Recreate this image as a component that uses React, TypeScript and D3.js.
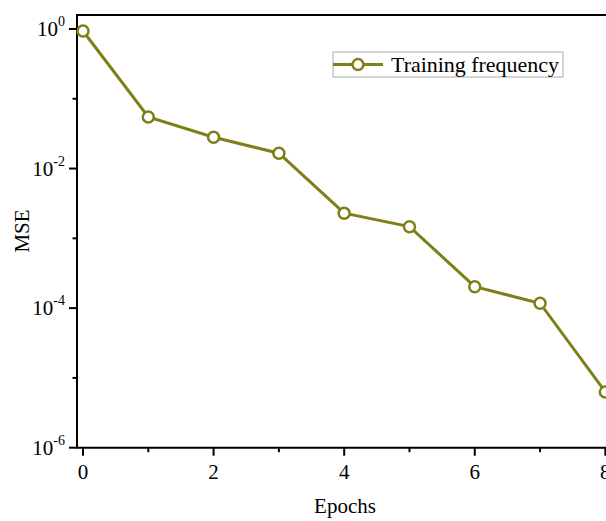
import * as d3 from 'd3';
import React, { useRef, useEffect } from 'react';

const epochs = [0, 1, 2, 3, 4, 5, 6, 7, 8];
const mse = [0.935, 0.0548, 0.0281, 0.0166, 0.00229, 0.00147, 0.000203, 0.0001175, 0.0000063];
const xMajor = [0, 2, 4, 6, 8];
const xMinor = [1, 3, 5, 7];
const yMajorExp = [0, -2, -4, -6];
const yMinorExp = [-1, -3, -5];
const seriesName = 'Training frequency';

const App = ({ width = 606, height = 521 }) => {
  const ref = useRef(null);

  useEffect(() => {
    const svg = d3.select(ref.current);
    svg.selectAll('*').remove();

    const left = 77, top = 15, bottom = 447.7, right = 638;
    const color = '#7f7f1a';
    const font = '"Liberation Serif", "Times New Roman", serif';

    const x = d3.scaleLinear().domain([-0.092, 8.5]).range([left, right]);
    const y = d3.scaleLog().domain([1e-6, Math.pow(10, 0.2)]).range([bottom, top]);

    // frame (left, top, bottom)
    svg.append('path')
      .attr('d', `M${right},${top}H${left}V${bottom}H${right}`)
      .attr('fill', 'none')
      .attr('stroke', '#000')
      .attr('stroke-width', 2);

    // x ticks
    svg.selectAll('.xmaj').data(xMajor).enter().append('line')
      .attr('x1', d => x(d)).attr('x2', d => x(d))
      .attr('y1', bottom).attr('y2', bottom + 8)
      .attr('stroke', '#000').attr('stroke-width', 2);
    svg.selectAll('.xmin').data(xMinor).enter().append('line')
      .attr('x1', d => x(d)).attr('x2', d => x(d))
      .attr('y1', bottom).attr('y2', bottom + 4.5)
      .attr('stroke', '#000').attr('stroke-width', 2);
    svg.selectAll('.xlab').data(xMajor).enter().append('text')
      .attr('x', d => x(d)).attr('y', 479)
      .attr('text-anchor', 'middle')
      .style('font-family', font).style('font-size', '21px')
      .text(d => d);

    // y ticks
    svg.selectAll('.ymaj').data(yMajorExp).enter().append('line')
      .attr('x1', left - 8).attr('x2', left)
      .attr('y1', d => y(Math.pow(10, d))).attr('y2', d => y(Math.pow(10, d)))
      .attr('stroke', '#000').attr('stroke-width', 2);
    svg.selectAll('.ymin').data(yMinorExp).enter().append('line')
      .attr('x1', left - 4.5).attr('x2', left)
      .attr('y1', d => y(Math.pow(10, d))).attr('y2', d => y(Math.pow(10, d)))
      .attr('stroke', '#000').attr('stroke-width', 2);
    const ylab = svg.selectAll('.ylab').data(yMajorExp).enter().append('text')
      .attr('x', 65).attr('y', d => y(Math.pow(10, d)) + 7)
      .attr('text-anchor', 'end')
      .style('font-family', font).style('font-size', '21px');
    ylab.append('tspan').text('10');
    ylab.append('tspan').attr('dy', -10).style('font-size', '14px').text(d => d === 0 ? '0' : `-${-d}`);

    // axis titles
    svg.append('text')
      .attr('x', 345).attr('y', 513)
      .attr('text-anchor', 'middle')
      .style('font-family', font).style('font-size', '21px')
      .text('Epochs');
    svg.append('text')
      .attr('transform', 'translate(29,231) rotate(-90)')
      .attr('text-anchor', 'middle')
      .style('font-family', font).style('font-size', '21px')
      .text('MSE');

    // line
    const pts = epochs.map((e, i) => [e, mse[i]]);
    const line = d3.line().x(d => x(d[0])).y(d => y(d[1]));
    svg.append('path')
      .attr('d', line(pts))
      .attr('fill', 'none')
      .attr('stroke', color)
      .attr('stroke-width', 3);
    svg.selectAll('.pt').data(pts).enter().append('circle')
      .attr('cx', d => x(d[0])).attr('cy', d => y(d[1]))
      .attr('r', 5.5)
      .attr('fill', '#fff')
      .attr('stroke', color)
      .attr('stroke-width', 2.5);

    // legend
    const lg = svg.append('g');
    lg.append('rect')
      .attr('x', 333).attr('y', 52).attr('width', 230).attr('height', 25)
      .attr('fill', '#fff').attr('stroke', '#aaa').attr('stroke-width', 1);
    lg.append('line')
      .attr('x1', 333).attr('x2', 383).attr('y1', 64.5).attr('y2', 64.5)
      .attr('stroke', color).attr('stroke-width', 3);
    lg.append('circle')
      .attr('cx', 358).attr('cy', 64.5).attr('r', 5.5)
      .attr('fill', '#fff').attr('stroke', color).attr('stroke-width', 2.5);
    lg.append('text')
      .attr('x', 391).attr('y', 72)
      .attr('textLength', 168)
      .style('font-family', font).style('font-size', '22px')
      .text(seriesName);
  }, [width, height]);

  return (
    <>
      <style>{'body{margin:0}'}</style>
      <svg ref={ref} width={width} height={height} style={{ display: 'block', background: '#fff' }} />
    </>
  );
};

export default App;
